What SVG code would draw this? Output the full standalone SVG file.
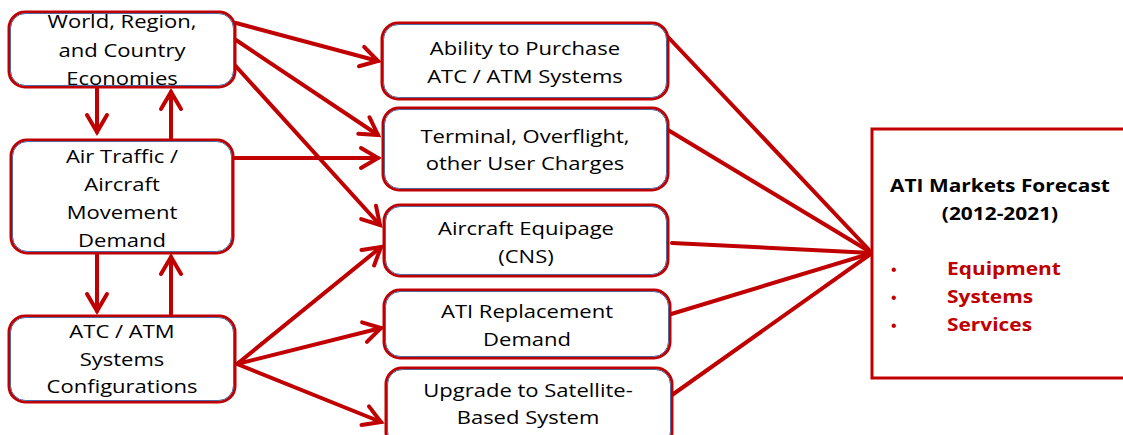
<svg xmlns="http://www.w3.org/2000/svg" width="1123" height="435" viewBox="0 0 1123 435">
  <style>
    .box-outer { fill: #ffffff; stroke: #c00000; stroke-width: 3; }
    .box-inner { fill: none; stroke: #4f6aa3; stroke-width: 1; }
    .label { font-family: "Open Sans", "Noto Sans", sans-serif; font-size: 18.5px; fill: #000000; text-anchor: middle; }
    .title { font-family: "Open Sans", "Noto Sans", sans-serif; font-size: 18.5px; font-weight: bold; fill: #000000; text-anchor: middle; }
    .item { font-family: "Open Sans", "Noto Sans", sans-serif; font-size: 18.5px; font-weight: bold; fill: #c00000; }
    .bullet { font-family: "Liberation Sans", sans-serif; font-size: 16px; fill: #c00000; }
    .link { fill: none; stroke: #c00000; stroke-width: 4; stroke-linecap: round; }
    .arrow { marker-end: url(#head); }
  </style>
  <defs>
    <marker id="head" markerUnits="userSpaceOnUse" markerWidth="30" markerHeight="30" refX="20" refY="15" orient="auto" viewBox="0 0 30 30">
      <path d="M 3 5 L 20 15 L 3 25" fill="none" stroke="#c00000" stroke-width="4" stroke-linecap="round" stroke-linejoin="miter"/>
    </marker>
  </defs>

  <rect width="1123" height="435" fill="#ffffff"/>

  <!-- connectors -->
  <g id="connectors">
    <!-- vertical links between the left column boxes -->
    <line class="link arrow" x1="97" y1="88" x2="97" y2="132"/>
    <line class="link arrow" x1="171" y1="139" x2="171" y2="92"/>
    <line class="link arrow" x1="97" y1="254" x2="97" y2="311"/>
    <line class="link arrow" x1="171" y1="315" x2="171" y2="257"/>
    <!-- left column to middle column -->
    <line class="link arrow" x1="236" y1="23" x2="378" y2="61"/>
    <line class="link arrow" x1="236" y1="40" x2="378" y2="135"/>
    <line class="link arrow" x1="232" y1="62" x2="380" y2="225"/>
    <line class="link arrow" x1="234" y1="158" x2="378" y2="158"/>
    <line class="link arrow" x1="237" y1="364" x2="381" y2="247"/>
    <line class="link arrow" x1="237" y1="364" x2="381" y2="328"/>
    <line class="link arrow" x1="237" y1="364" x2="381" y2="422"/>
    <!-- middle column to forecast -->
    <line class="link" x1="668" y1="37" x2="872" y2="253"/>
    <line class="link" x1="668" y1="130" x2="872" y2="253"/>
    <line class="link" x1="672" y1="243" x2="872" y2="253"/>
    <line class="link" x1="668" y1="315" x2="872" y2="253"/>
    <line class="link" x1="672" y1="395" x2="872" y2="253"/>
  </g>

  <!-- left column -->
  <g id="economies">
    <rect class="box-outer" x="9" y="12" width="226" height="75" rx="16"/>
    <rect class="box-inner" x="10.5" y="13.5" width="223" height="72" rx="15"/>
    <g transform="translate(122,0) scale(1.19,1)">
      <text class="label" x="0" y="28">World, Region,</text>
      <text class="label" x="0" y="57">and Country</text>
      <text class="label" x="0" y="85">Economies</text>
    </g>
  </g>
  <g id="air-traffic">
    <rect class="box-outer" x="11" y="140" width="222" height="113" rx="16"/>
    <rect class="box-inner" x="12.5" y="141.5" width="219" height="110" rx="15"/>
    <g transform="translate(122,0) scale(1.19,1)">
      <text class="label" x="0" y="163">Air Traffic /</text>
      <text class="label" x="0" y="191">Aircraft</text>
      <text class="label" x="0" y="219">Movement</text>
      <text class="label" x="0" y="247">Demand</text>
    </g>
  </g>
  <g id="atc-config">
    <rect class="box-outer" x="9" y="316" width="226" height="86" rx="16"/>
    <rect class="box-inner" x="10.5" y="317.5" width="223" height="83" rx="15"/>
    <g transform="translate(122,0) scale(1.19,1)">
      <text class="label" x="0" y="338">ATC / ATM</text>
      <text class="label" x="0" y="366">Systems</text>
      <text class="label" x="0" y="393">Configurations</text>
    </g>
  </g>

  <!-- middle column -->
  <g id="purchase">
    <rect class="box-outer" x="382" y="23" width="286" height="76" rx="16"/>
    <rect class="box-inner" x="383.5" y="24.5" width="283" height="73" rx="15"/>
    <g transform="translate(525,0) scale(1.19,1)">
      <text class="label" x="0" y="55">Ability to Purchase</text>
      <text class="label" x="0" y="83">ATC / ATM Systems</text>
    </g>
  </g>
  <g id="charges">
    <rect class="box-outer" x="383" y="108" width="285" height="82" rx="16"/>
    <rect class="box-inner" x="384.5" y="109.5" width="282" height="79" rx="15"/>
    <g transform="translate(525,0) scale(1.19,1)">
      <text class="label" x="0" y="143">Terminal, Overflight,</text>
      <text class="label" x="0" y="170">other User Charges</text>
    </g>
  </g>
  <g id="equipage">
    <rect class="box-outer" x="384" y="205" width="284" height="71" rx="16"/>
    <rect class="box-inner" x="385.5" y="206.5" width="281" height="68" rx="15"/>
    <g transform="translate(526,0) scale(1.19,1)">
      <text class="label" x="0" y="235">Aircraft Equipage</text>
      <text class="label" x="0" y="263">(CNS)</text>
    </g>
  </g>
  <g id="replacement">
    <rect class="box-outer" x="384" y="290" width="286" height="68" rx="16"/>
    <rect class="box-inner" x="385.5" y="291.5" width="283" height="65" rx="15"/>
    <g transform="translate(527,0) scale(1.19,1)">
      <text class="label" x="0" y="318">ATI Replacement</text>
      <text class="label" x="0" y="346">Demand</text>
    </g>
  </g>
  <g id="satellite">
    <rect class="box-outer" x="386" y="368" width="286" height="80" rx="16"/>
    <rect class="box-inner" x="387.5" y="369.5" width="283" height="77" rx="15"/>
    <g transform="translate(528,0) scale(1.19,1)">
      <text class="label" x="0" y="397">Upgrade to Satellite-</text>
      <text class="label" x="0" y="424">Based System</text>
    </g>
  </g>

  <!-- forecast -->
  <g id="forecast">
    <rect x="872" y="129" width="260" height="249" fill="#ffffff" stroke="#c00000" stroke-width="3"/>
    <g transform="translate(1000,0) scale(1.13,1)">
      <text class="title" x="0" y="192">ATI Markets Forecast</text>
      <text class="title" x="0" y="220">(2012-2021)</text>
    </g>
    <text class="bullet" x="891" y="275">•</text>
    <text class="bullet" x="891" y="303">•</text>
    <text class="bullet" x="891" y="331">•</text>
    <g transform="translate(947,0) scale(1.13,1)">
      <text class="item" x="0" y="275">Equipment</text>
      <text class="item" x="0" y="303">Systems</text>
      <text class="item" x="0" y="331">Services</text>
    </g>
  </g>
</svg>
